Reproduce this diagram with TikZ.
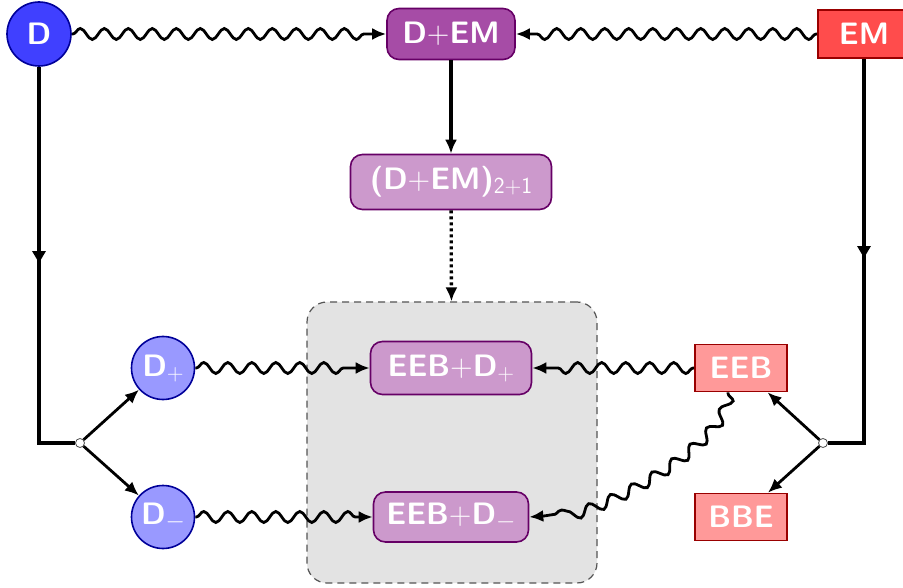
\documentclass[tikz,border=0pt]{standalone}
\usetikzlibrary{arrows.meta,decorations.pathmorphing,decorations.markings}
\definecolor{dfill}{HTML}{4040FF}
\definecolor{dline}{HTML}{000099}
\definecolor{dlight}{HTML}{9999FF}
\definecolor{pdark}{HTML}{A64CA6}
\definecolor{plight}{HTML}{CC99CC}
\definecolor{pline}{HTML}{660066}
\definecolor{rfill}{HTML}{FF4C4C}
\definecolor{rlight}{HTML}{FF9999}
\definecolor{rline}{HTML}{990000}
\definecolor{boxfill}{HTML}{E3E3E3}
\definecolor{boxline}{HTML}{555555}
\newcommand\mysub[1]{\raisebox{-4pt}{\fontsize{23}{26}\selectfont\mdseries #1}}
\newcommand\myplus{{\mdseries+}}
\tikzset{
  lbl/.style={text=white, font=\sffamily\bfseries\fontsize{31}{36}\selectfont, inner sep=0pt},
  dnode/.style={lbl, circle, minimum size=63pt, line width=1.6pt, draw=dline},
  pnode/.style={lbl, rectangle, rounded corners=12pt, line width=1.6pt, draw=pline},
  rnode/.style={lbl, rectangle, minimum width=92pt, minimum height=47pt, line width=1.6pt, draw=rline},
  junc/.style={circle, fill=white, draw=black!70, line width=0.8pt, minimum size=9pt, inner sep=0pt},
  thick3/.style={line width=3.3pt, black},
  thick2/.style={line width=2.8pt, black},
  tip/.style={-{Latex[length=14pt,width=12pt]}},
  wave/.style={line width=2.8pt, black, tip, decorate,
    decoration={snake, amplitude=5.5pt, segment length=24pt, pre length=1pt, post length=15pt}},
  midarrow/.style={postaction={decorate}, decoration={markings,
    mark=at position #1 with {\arrow{Triangle[length=12pt,width=13pt]}}}},
}
\begin{document}
\begin{tikzpicture}[x=1pt,y=-1pt]
\useasboundingbox (0,0) rectangle (903,588);
\fill[white] (0,0) rectangle (903,588);
% group box
\node[draw=boxline, fill=boxfill, dash pattern=on 7pt off 5pt, line width=1.2pt,
  rounded corners=20pt, minimum width=290pt, minimum height=281pt, inner sep=0pt] (grp) at (452,442.5) {};
% nodes
\node[dnode, fill=dfill, minimum size=64pt] (D) at (39,34) {D};
\node[pnode, fill=pdark, minimum width=128pt, minimum height=51pt] (DEM) at (451,34) {D\myplus EM};
\node[rnode, fill=rfill, minimum height=48pt] (EM) at (864,34) {EM};
\node[pnode, fill=plight, minimum width=201pt, minimum height=55pt] (DEM21) at (451,182) {(D\myplus EM)\mysub{2+1}};
\node[dnode, fill=dlight] (Dp) at (163,368) {D\mysub{+}};
\node[dnode, fill=dlight] (Dm) at (163,517) {D\mysub{$-$}};
\node[pnode, fill=plight, minimum width=161pt, minimum height=53pt] (EEBDp) at (451,368) {EEB\myplus D\mysub{+}};
\node[pnode, fill=plight, minimum width=155pt, minimum height=50pt] (EEBDm) at (451,517) {EEB\myplus D\mysub{$-$}};
\node[rnode, fill=rlight] (EEB) at (741,368) {EEB};
\node[rnode, fill=rlight] (BBE) at (741,517) {BBE};
\node[junc] (jl) at (80,443) {};
\node[junc] (jr) at (823,443) {};
% wavy connectors
\draw[wave] (D) -- (DEM);
\draw[wave] (EM) -- (DEM);
\draw[wave] (Dp) -- (EEBDp);
\draw[wave] (Dm) -- (EEBDm);
\draw[wave] (EEB) -- (EEBDp);
\draw[wave] ([xshift=-13pt]EEB.south) .. controls +(0,45) and +(70,0) .. (EEBDm.east);
% straight connectors
\draw[thick3, tip] (DEM) -- (DEM21);
\draw[thick3, tip, dash pattern=on 3pt off 3pt] (DEM21) -- (grp);
\draw[thick3, midarrow=0.476] (D) -- (D |- jl) -- (jl);
\draw[thick3, midarrow=0.474] (EM) -- (EM |- jr) -- (jr);
\draw[thick2, tip] (jl) -- (Dp);
\draw[thick2, tip] (jl) -- (Dm);
\draw[thick2, tip] (jr) -- (EEB);
\draw[thick2, tip] (jr) -- (BBE);
\end{tikzpicture}
\end{document}
